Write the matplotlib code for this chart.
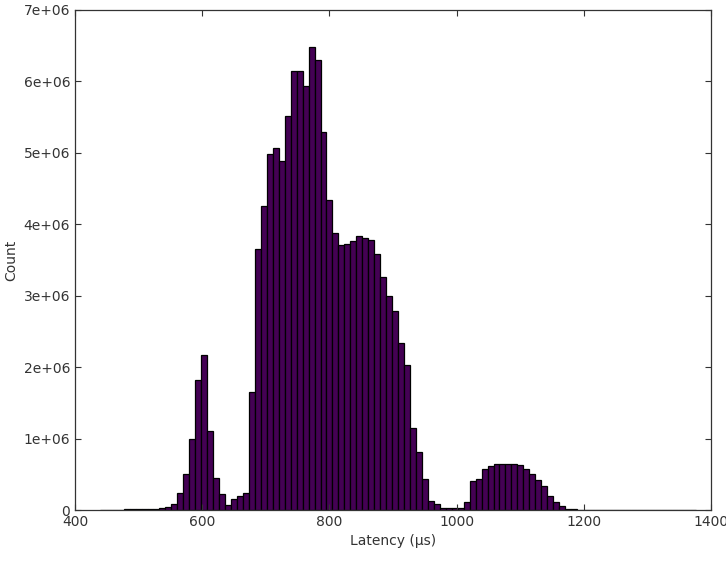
import numpy as np
import matplotlib
matplotlib.use("Agg")
import matplotlib.pyplot as plt
from matplotlib.ticker import FuncFormatter

# histogram bins (latency in µs)
LAT_MIN = 439.0
LAT_MAX = 1377.0
N_BINS = 100

# counts per bin, in millions
counts_m = [
    0.005, 0.006, 0.006, 0.007, 0.008, 0.009, 0.010, 0.012, 0.014, 0.018,
    0.025, 0.04, 0.085, 0.24, 0.51, 0.99, 1.82, 2.17, 1.11, 0.45,
    0.23, 0.076, 0.16, 0.19, 0.24, 1.65, 3.66, 4.25, 4.98, 5.07,
    4.88, 5.51, 6.15, 6.15, 5.93, 6.48, 6.30, 5.29, 4.34, 3.88,
    3.71, 3.72, 3.76, 3.83, 3.81, 3.78, 3.59, 3.26, 2.99, 2.78,
    2.34, 2.03, 1.15, 0.81, 0.44, 0.13, 0.09, 0.03, 0.035, 0.03,
    0.03, 0.11, 0.41, 0.44, 0.58, 0.61, 0.64, 0.65, 0.65, 0.65,
    0.63, 0.58, 0.50, 0.42, 0.33, 0.20, 0.11, 0.05, 0.02, 0.01,
    0.007, 0.006, 0.005, 0.005, 0.004, 0.004, 0.004, 0.003, 0.003, 0.003,
    0.003, 0.003, 0.003, 0.003, 0.003, 0.003, 0.003, 0.003, 0.003, 0.003,
]

x_ticks = [400, 600, 800, 1000, 1200, 1400]
y_ticks = [0, 1e6, 2e6, 3e6, 4e6, 5e6, 6e6, 7e6]

edges = np.linspace(LAT_MIN, LAT_MAX, N_BINS + 1)
counts = np.array(counts_m) * 1e6

fig = plt.figure(figsize=(7.26, 5.61), dpi=100)
ax = fig.add_axes([0.1033, 0.0909, 0.876, 0.8913])

ax.hist(edges[:-1], bins=edges, weights=counts,
        color="#440154", edgecolor="black", linewidth=0.9)

ax.set_xlim(400, 1400)
ax.set_ylim(0, 7e6)
ax.set_xticks(x_ticks)
ax.set_yticks(y_ticks)
fmt = FuncFormatter(lambda v, p: "{:g}".format(v))
ax.xaxis.set_major_formatter(fmt)
ax.yaxis.set_major_formatter(fmt)

ax.tick_params(direction="in", length=4, width=0.8, top=True, right=True,
               colors="#333333", labelsize=10)
for s in ax.spines.values():
    s.set_color("#333333")
    s.set_linewidth(0.9)

ax.set_xlabel("Latency (µs)", fontsize=10, color="#333333", labelpad=4)
ax.set_ylabel("Count", fontsize=10, color="#333333", labelpad=4)

fig.savefig("out.png", dpi=100)
